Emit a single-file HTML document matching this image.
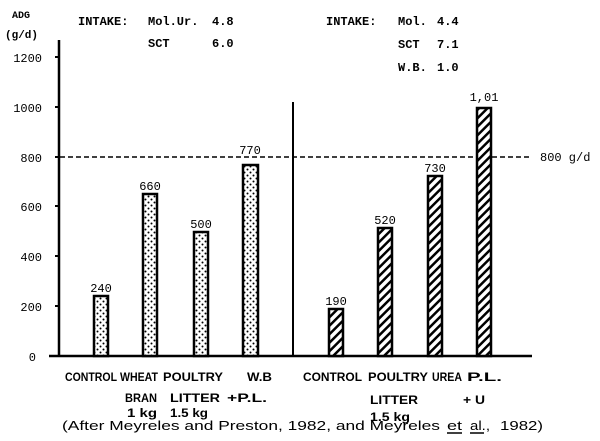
<!DOCTYPE html>
<html><head><meta charset="utf-8"><style>
html,body{margin:0;padding:0;background:#fff;}
svg{display:block;}
text{font-family:"Liberation Mono","DejaVu Sans Mono",monospace;font-size:12px;fill:#000;}
.lb{font-family:"Liberation Sans",sans-serif;font-size:12px;font-weight:bold;}
.ct{font-family:"Liberation Sans",sans-serif;font-size:13px;}
</style></head><body>
<svg width="600" height="441" viewBox="0 0 600 441" xmlns="http://www.w3.org/2000/svg">
<defs>
<pattern id="dots" width="6" height="6" patternUnits="userSpaceOnUse">
<rect width="6" height="6" fill="#fff"/>
<circle cx="1.5" cy="1.5" r="1" fill="#000"/>
<circle cx="4.5" cy="4.5" r="1" fill="#000"/>
</pattern>
<pattern id="hatch" width="6" height="6" patternUnits="userSpaceOnUse" patternTransform="rotate(45)">
<rect width="6" height="6" fill="#fff"/>
<rect x="0" y="0" width="2.5" height="6" fill="#000"/>
</pattern>
</defs>
<line x1="59" y1="40" x2="59" y2="357" stroke="#000" stroke-width="2.5"/>
<line x1="49" y1="356" x2="532" y2="356" stroke="#000" stroke-width="2.5"/>
<line x1="293" y1="102" x2="293" y2="356" stroke="#000" stroke-width="2"/>
<g stroke="#000" stroke-width="2">
<line x1="55" y1="57" x2="59" y2="57"/><line x1="55" y1="107" x2="59" y2="107"/>
<line x1="55" y1="157" x2="59" y2="157"/><line x1="55" y1="206" x2="59" y2="206"/>
<line x1="55" y1="256" x2="59" y2="256"/><line x1="55" y1="306" x2="59" y2="306"/>
</g>
<g text-anchor="end" style="font-family:'Liberation Sans',sans-serif;font-size:13px">
<text x="42" y="62">1200</text><text x="42" y="112">1000</text>
<text x="42" y="162">800</text><text x="42" y="211">600</text>
<text x="42" y="261">400</text><text x="42" y="311">200</text>
<text x="36" y="361">0</text>
</g>
<text x="12" y="18" style="font-size:10px;font-weight:bold">ADG</text>
<text x="5" y="38" style="font-size:11px;font-weight:bold">(g/d)</text>
<line x1="60" y1="157" x2="532" y2="157" stroke="#000" stroke-width="1.5" stroke-dasharray="5,3"/>
<text x="540" y="161">800 g/d</text>
<g stroke="#000" stroke-width="2.5" fill="url(#dots)">
<rect x="94" y="296" width="14" height="60"/>
<rect x="143" y="194" width="14" height="162"/>
<rect x="194" y="232" width="14" height="124"/>
<rect x="243" y="165" width="15" height="191"/>
</g>
<g stroke="#000" stroke-width="2.5" fill="url(#hatch)">
<rect x="329" y="309" width="14" height="47"/>
<rect x="378" y="228" width="14" height="128"/>
<rect x="428" y="176" width="14" height="180"/>
<rect x="477" y="108" width="14" height="248"/>
</g>
<g text-anchor="middle">
<text x="101" y="292">240</text><text x="150" y="190">660</text>
<text x="201" y="228">500</text><text x="250" y="154">770</text>
<text x="336" y="305">190</text><text x="385" y="224">520</text>
<text x="435" y="172">730</text><text x="484" y="101">1,01</text>
</g>
<g style="font-size:11px;font-weight:bold">
<text x="78" y="25">INTAKE:</text><text x="148" y="25">Mol.Ur.</text><text x="212" y="25">4.8</text>
<text x="148" y="47">SCT</text><text x="212" y="47">6.0</text>
<text x="326" y="25">INTAKE:</text><text x="398" y="25">Mol.</text><text x="437" y="25">4.4</text>
<text x="398" y="48">SCT</text><text x="437" y="48">7.1</text>
<text x="398" y="71">W.B.</text><text x="437" y="71">1.0</text>
</g>
<text class="lb" x="65" y="381" textLength="52" lengthAdjust="spacingAndGlyphs">CONTROL</text>
<text class="lb" x="120" y="381" textLength="38" lengthAdjust="spacingAndGlyphs">WHEAT</text>
<text class="lb" x="163" y="381" textLength="60" lengthAdjust="spacingAndGlyphs">POULTRY</text>
<text class="lb" x="247" y="381" textLength="25" lengthAdjust="spacingAndGlyphs">W.B</text>
<text class="lb" x="303" y="381" textLength="59" lengthAdjust="spacingAndGlyphs">CONTROL</text>
<text class="lb" x="368" y="381" textLength="60" lengthAdjust="spacingAndGlyphs">POULTRY</text>
<text class="lb" x="432" y="381" textLength="30" lengthAdjust="spacingAndGlyphs">UREA</text>
<text class="lb" x="467" y="381" textLength="35" lengthAdjust="spacingAndGlyphs">P.L.</text>
<text class="lb" x="125" y="402" textLength="32" lengthAdjust="spacingAndGlyphs">BRAN</text>
<text class="lb" x="170" y="402" textLength="50" lengthAdjust="spacingAndGlyphs">LITTER</text>
<text class="lb" x="227" y="402" textLength="40" lengthAdjust="spacingAndGlyphs">+P.L.</text>
<text class="lb" x="370" y="404" textLength="48" lengthAdjust="spacingAndGlyphs">LITTER</text>
<text class="lb" x="463" y="404" textLength="22" lengthAdjust="spacingAndGlyphs">+ U</text>
<text class="lb" x="127" y="417" textLength="30" lengthAdjust="spacingAndGlyphs">1 kg</text>
<text class="lb" x="170" y="417" textLength="38" lengthAdjust="spacingAndGlyphs">1.5 kg</text>
<text class="lb" x="370" y="421" textLength="40" lengthAdjust="spacingAndGlyphs">1.5 kg</text>
<text class="ct" x="62" y="430" textLength="378" lengthAdjust="spacingAndGlyphs">(After Meyreles and Preston, 1982, and Meyreles</text>
<text class="ct" x="447" y="430" textLength="15" lengthAdjust="spacingAndGlyphs">et</text>
<text class="ct" x="470" y="430" textLength="20" lengthAdjust="spacingAndGlyphs">al.,</text>
<text class="ct" x="500" y="430" textLength="43" lengthAdjust="spacingAndGlyphs">1982)</text>
<line x1="447" y1="433" x2="462" y2="433" stroke="#000" stroke-width="1.5"/>
<line x1="470" y1="433" x2="484" y2="433" stroke="#000" stroke-width="1.5"/>
</svg>
</body></html>
